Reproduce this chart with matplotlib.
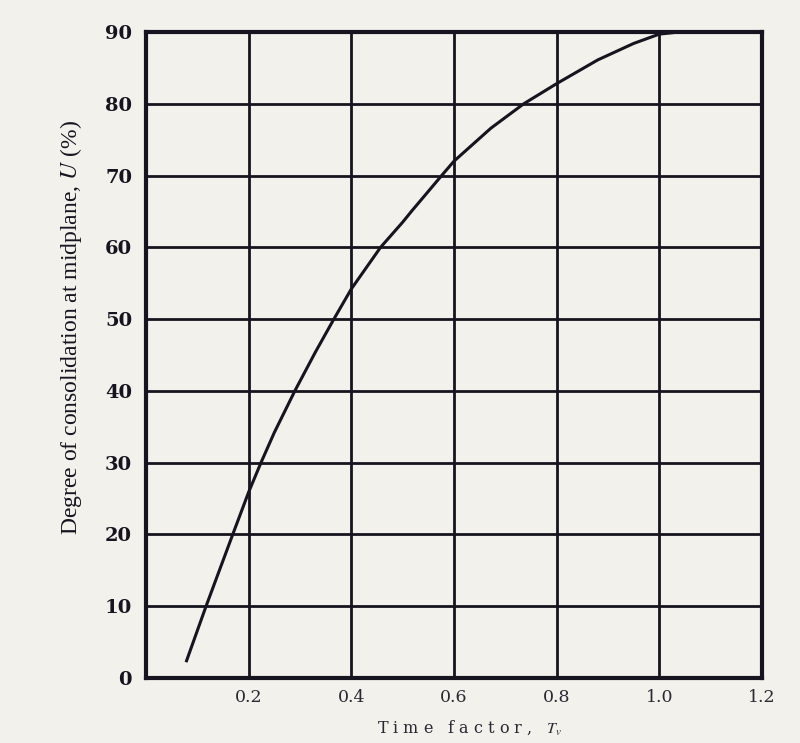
import matplotlib.pyplot as plt

# values
time_factor = [0.078, 0.117, 0.169, 0.2, 0.224, 0.25, 0.29, 0.33, 0.366, 0.4,
               0.457, 0.5, 0.517, 0.576, 0.6, 0.672, 0.736, 0.8, 0.88, 0.95,
               1.0, 1.04]
consolidation = [2.2, 10, 20, 25.9, 30, 34.2, 40, 45.4, 50, 54.2,
                 60, 63.5, 65, 70, 72, 76.6, 80, 82.8, 86.1, 88.4,
                 89.7, 90]
x_ticks = [0.2, 0.4, 0.6, 0.8, 1.0, 1.2]
y_ticks = [0, 10, 20, 30, 40, 50, 60, 70, 80, 90]

ink = '#15141f'
paper = '#f3f1ec'
plt.rcParams['mathtext.fontset'] = 'stix'

fig = plt.figure(figsize=(8, 7.43), dpi=100, facecolor=paper)
ax = fig.add_axes([0.1825, 0.0875, 0.77, 0.8695])
ax.set_facecolor(paper)

ax.plot(time_factor, consolidation, color=ink, lw=2.2, solid_capstyle='butt',
        solid_joinstyle='round', clip_on=False, zorder=3)

ax.set_xlim(0, 1.2)
ax.set_ylim(0, 90)
ax.set_xticks(x_ticks)
ax.set_yticks(y_ticks)
ax.set_xticklabels(['0.2', '0.4', '0.6', '0.8', '1.0', '1.2'],
                   family='DejaVu Serif', fontsize=12.5, color='#2a2833')
ax.set_yticklabels([str(v) for v in y_ticks], family='DejaVu Serif',
                   fontsize=14, fontweight='bold', color=ink)
ax.tick_params(length=0, pad=10)
ax.tick_params(axis='x', pad=8)

ax.grid(True, color=ink, lw=2.0)
ax.set_axisbelow(True)
for s in ax.spines.values():
    s.set_linewidth(3)
    s.set_color(ink)

ax.set_ylabel('Degree of consolidation at midplane, $U$ (%)',
              family='Liberation Serif', fontsize=17, color=ink)
ax.yaxis.set_label_coords(-0.10, 0.543)
ax.set_xlabel('T i m e   f a c t o r ,   $T_v$', family='DejaVu Serif',
              fontsize=11.5, color='#2a2833')
ax.xaxis.set_label_coords(0.526, -0.063)

fig.savefig('out.png', dpi=100, facecolor=paper)
